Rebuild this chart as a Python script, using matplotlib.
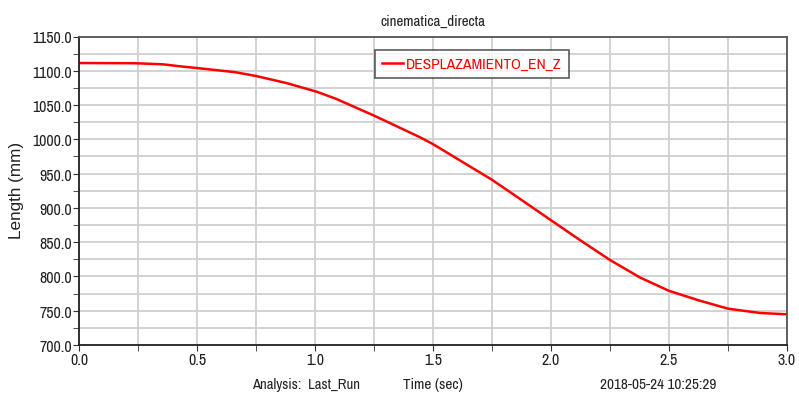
import matplotlib.pyplot as plt
from matplotlib import font_manager
from matplotlib.ticker import MultipleLocator, FormatStrFormatter

# Data
time_s = [0.0, 0.237, 0.356, 0.428, 0.5, 0.661, 0.75, 0.88, 1.007, 1.09,
          1.254, 1.445, 1.5, 1.75, 1.869, 2.0, 2.123, 2.25, 2.377, 2.5,
          2.631, 2.75, 2.886, 3.0]
length_mm = [1111.3, 1111.0, 1109.4, 1106.5, 1104.0, 1098.0, 1092.4, 1082.0,
             1069.5, 1059.0, 1034.0, 1003.0, 993.0, 941.0, 913.0, 882.0,
             853.0, 824.0, 798.5, 779.0, 764.6, 753.0, 746.7, 744.8]


# pick the first narrow family that is installed
def pick_font(candidates):
    for name in candidates:
        try:
            font_manager.findfont(font_manager.FontProperties(family=name),
                                  fallback_to_default=False)
            return name
        except ValueError:
            continue
    return 'Liberation Sans'


NARROW = pick_font(['Liberation Sans Narrow', 'Arial Narrow', 'Archivo Narrow',
                    'Roboto Condensed', 'Open Sans Condensed'])
plt.rcParams['font.family'] = [NARROW, 'Liberation Sans', 'DejaVu Sans']

fig = plt.figure(figsize=(7.99, 4.02), dpi=100)
ax = fig.add_axes([79 / 799, 1 - 346 / 402, (787 - 79) / 799, (346 - 37.5) / 402])

ax.plot(time_s, length_mm, color='#ff0000', lw=1.8, label='DESPLAZAMIENTO_EN_Z')

ax.set_xlim(0, 3.0)
ax.set_ylim(700, 1150)
ax.xaxis.set_major_locator(MultipleLocator(0.5))
ax.xaxis.set_minor_locator(MultipleLocator(0.25))
ax.yaxis.set_major_locator(MultipleLocator(50))
ax.yaxis.set_minor_locator(MultipleLocator(25))
ax.xaxis.set_major_formatter(FormatStrFormatter('%.1f'))
ax.yaxis.set_major_formatter(FormatStrFormatter('%.1f'))
ax.grid(True, which='both', color='#cfcfcf', lw=1.3)
ax.set_axisbelow(True)
ax.tick_params(which='both', direction='out', length=4, color='#333333',
               labelsize=11.5, labelcolor='#222222', pad=1)

for side in ['left', 'bottom']:
    ax.spines[side].set_color('#222222')
    ax.spines[side].set_linewidth(1.3)
for side in ['top', 'right']:
    ax.spines[side].set_color('#555555')
    ax.spines[side].set_linewidth(1.3)

leg = ax.legend(loc='upper left', bbox_to_anchor=((375 - 79) / 708, (346 - 51) / 308.5),
                fontsize=11.2, frameon=True, fancybox=False, handlelength=1.35,
                handletextpad=0.2, borderpad=0.45, borderaxespad=0,
                labelcolor='#ff0000')
leg.get_frame().set_edgecolor('#333333')
leg.get_frame().set_linewidth(1.2)

fig.text(433 / 799, 1 - 22 / 402, 'cinematica_directa', ha='center', va='center',
         fontsize=10.8, color='#222222')
fig.text(17 / 799, 1 - 190 / 402, 'Length (mm)', ha='center', va='center',
         rotation=90, fontsize=12.3, color='#222222', family='Liberation Sans')
fig.text(252 / 799, 1 - 385 / 402, 'Analysis:  Last_Run', ha='left', va='center',
         fontsize=10.6, color='#222222')
fig.text(433 / 799, 1 - 385 / 402, 'Time (sec)', ha='center', va='center',
         fontsize=11, color='#222222')
fig.text(716 / 799, 1 - 385 / 402, '2018-05-24 10:25:29', ha='right', va='center',
         fontsize=11, color='#222222')

fig.savefig('out.png', dpi=100)
